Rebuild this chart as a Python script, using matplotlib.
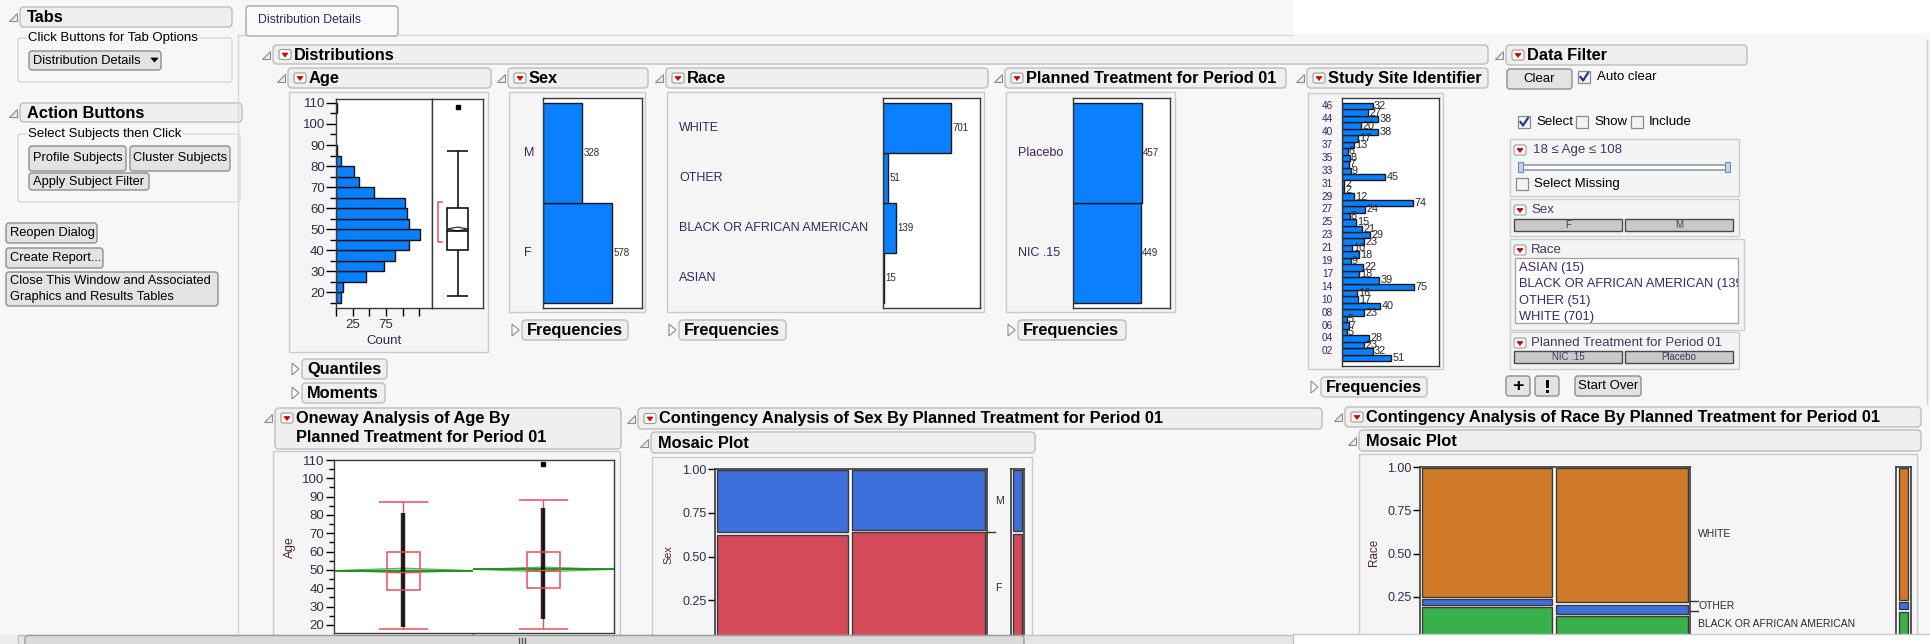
import numpy as np
import matplotlib
matplotlib.use("Agg")
import matplotlib.pyplot as plt
from matplotlib.patches import Rectangle, FancyBboxPatch, Polygon
from matplotlib.lines import Line2D
from matplotlib.transforms import Affine2D, blended_transform_factory
from matplotlib.ticker import FormatStrFormatter

plt.rcParams['font.family'] = ['Liberation Sans', 'DejaVu Sans']

# ---------------------------------------------------------------- data
# Age histogram (5-year bins, lower edges) and summary statistics
age_bin_low = [15, 20, 25, 30, 35, 40, 45, 50, 55, 60, 65, 70, 75, 80, 85, 90, 95, 100, 105]
age_counts = [8, 10, 45, 72, 88, 109, 126, 109, 106, 104, 57, 34, 27, 8, 2, 0, 0, 0, 1]
age_quartiles = [40, 49, 60]          # Q1, median, Q3
age_whiskers = [18, 87]
age_outliers = [108]
age_mean = 50.0
age_mean_ci = [49.1, 50.9]
age_shortest_half = [44, 63]
age_min, age_max = 18, 108

sex_levels = ['F', 'M']
sex_counts = [578, 328]

race_levels = ['ASIAN', 'BLACK OR AFRICAN AMERICAN', 'OTHER', 'WHITE']
race_counts = [15, 139, 51, 701]

trt_levels = ['NIC .15', 'Placebo']
trt_counts = [449, 457]

site_ids = ['01', '02', '03', '04', '05', '06', '07', '08', '09', '10', '11', '14', '15',
            '17', '18', '19', '20', '21', '22', '23', '24', '25', '26', '27', '28', '29',
            '30', '31', '32', '33', '34', '35', '36', '37', '38', '40', '41', '44', '45', '46']
site_counts = [51, 32, 23, 28, 5, 7, 5, 23, 40, 17, 16, 75, 39,
               18, 22, 9, 18, 10, 23, 29, 21, 15, 8, 24, 74, 12,
               2, 2, 45, 9, 7, 8, 6, 13, 17, 38, 20, 38, 27, 32]

# Oneway: Age by planned treatment (NIC .15, Placebo)
ow_q1 = [39, 40]
ow_median = [49, 50]
ow_q3 = [60, 60]
ow_whisker_lo = [18, 18]
ow_whisker_hi = [87, 88]
ow_points_lo = [19, 23]
ow_points_hi = [81, 84]
ow_outliers = [[], [108]]
ow_means = [49.7, 50.3]
ow_mean_halfci = [1.3, 1.3]

# Contingency tables by treatment column (NIC .15, Placebo)
sex_by_nic = [283, 166]            # F, M
sex_by_placebo = [295, 162]
race_by_nic = [7, 81, 21, 340]     # ASIAN, BLACK, OTHER, WHITE
race_by_placebo = [8, 58, 30, 361]

# ---------------------------------------------------------------- canvas
W, H = 1930, 644
BG = '#f7f7f7'
BAR = '#0a80ff'
NUM = '#2e2e4a'
CAT = '#3c2462'
RED = '#e8505f'

fig = plt.figure(figsize=(W / 100, H / 100), dpi=100)
fig.patch.set_facecolor(BG)
# pixel coordinates, origin at the top-left corner
PX = Affine2D().scale(0.01, -0.01).translate(0, H / 100) + fig.dpi_scale_trans


def add_ax(x0, y0, x1, y1):
    return fig.add_axes([x0 / W, 1 - y1 / H, (x1 - x0) / W, (y1 - y0) / H])


def box(x0, y0, x1, y1, fc='none', ec='none', lw=1.0, r=0, z=-3):
    if r:
        p = FancyBboxPatch((x0, y0), x1 - x0, y1 - y0,
                           boxstyle=f"round,pad=0,rounding_size={r}",
                           fc=fc, ec=ec, lw=lw, transform=PX, zorder=z)
    else:
        p = Rectangle((x0, y0), x1 - x0, y1 - y0, fc=fc, ec=ec, lw=lw,
                      transform=PX, zorder=z)
    fig.add_artist(p)
    return p


def poly(pts, fc, ec, lw=0.8, z=-2):
    fig.add_artist(Polygon(pts, closed=True, fc=fc, ec=ec, lw=lw,
                           transform=PX, zorder=z))


def seg(xs, ys, color, lw=1.0, z=-2):
    fig.add_artist(Line2D(xs, ys, color=color, lw=lw, transform=PX, zorder=z))


def label(x, y, s, size=9.5, bold=False, color='black', ha='left', va='center',
          z=4, **kw):
    return fig.text(x, y, s, transform=PX, fontsize=size,
                    fontweight='bold' if bold else 'normal', color=color,
                    ha=ha, va=va, zorder=z, **kw)


def open_tri(x, y):
    poly([(x - 4, y + 4), (x + 4, y + 4), (x + 4, y - 4)], '#ececec', '#8c8c8c')


def closed_tri(x, y):
    poly([(x - 3, y - 6), (x + 4, y), (x - 3, y + 6)], '#fbfbfb', '#8c8c8c')


def red_menu(x, y):
    box(x, y - 5, x + 12, y + 5, fc='#fbfbfb', ec='#9c9c9c', lw=0.8, r=2, z=-1)
    poly([(x + 3, y - 1.5), (x + 9, y - 1.5), (x + 6, y + 2.5)], '#d00000',
         '#d00000', lw=0.5, z=-0.5)


def header(x0, y0, x1, y1, text, menu=True, tri=True, size=11.8, lines=None):
    box(x0, y0, x1, y1, fc='#efefef', ec='#bdbdbd', lw=1, r=4)
    ym = (y0 + y1) / 2
    if lines is None:
        lines = [(text, ym)]
        ty = ym
    else:
        ty = lines[0][1]
    if tri:
        open_tri(x0 - 7, ty)
    tx = x0 + 7
    if menu:
        red_menu(x0 + 6, ty)
        tx = x0 + 21
    for s, yy in lines:
        label(tx, yy + 0.5, s, size, bold=True)


def button(x0, y0, x1, y1, text, size=9.3, fc='#e3e3e3', ec='#8e8e8e', bold=False,
           ha='center', tcolor='black', r=3):
    box(x0, y0, x1, y1, fc=fc, ec=ec, lw=1, r=r)
    tx = (x0 + x1) / 2 if ha == 'center' else x0 + 4
    label(tx, (y0 + y1) / 2, text, size, bold, ha=ha, color=tcolor)


def collapsed(x0, y0, x1, y1, text):
    closed_tri(x0 - 7, (y0 + y1) / 2)
    box(x0, y0, x1, y1, fc='#efefef', ec='#bdbdbd', lw=1, r=4)
    label(x0 + 5, (y0 + y1) / 2 + 0.5, text, 11.8, bold=True)


def checkbox(x, y, checked):
    box(x, y - 6, x + 12, y + 6, fc='#f4f4f4', ec='#8a8a8a', lw=0.9)
    if checked:
        seg([x + 2.5, x + 5, x + 10], [y, y + 3.5, y - 4], '#1f3a93', lw=1.6)


def group(x0, y0, x1, y1, title):
    box(x0, y0, x1, y1, ec='#d3dbe2', lw=1, r=3)
    label(x0 + 10, y0, title, 9.5, bbox=dict(fc=BG, ec='none', pad=1.0))


def panel(x0, y0, x1, y1):
    box(x0, y0, x1, y1, fc='#f5f5f5', ec='#cbcbcb', lw=1)


def frame(ax, lw=1.0, color='#3a3a3a'):
    ax.set_facecolor('white')
    for s in ax.spines.values():
        s.set_linewidth(lw)
        s.set_edgecolor(color)


# ---------------------------------------------------------------- left column
header(20, 7, 232, 27, 'Tabs', menu=False)
group(18, 38, 232, 82, 'Click Buttons for Tab Options')
button(29, 51, 161, 70, 'Distribution Details', ha='left')
poly([(151, 58), (158, 58), (154.5, 62)], 'black', 'black', lw=0.5, z=-1)

header(20, 103, 242, 122, 'Action Buttons', menu=False)
group(18, 134, 240, 202, 'Select Subjects then Click')
button(29, 146, 126, 171, 'Profile Subjects')
button(130, 146, 230, 171, 'Cluster Subjects')
button(29, 173, 149, 190, 'Apply Subject Filter')

button(6, 223, 97, 243, 'Reopen Dialog', ha='left')
button(6, 248, 103, 268, 'Create Report...', ha='left')
box(6, 272, 218, 306, fc='#e3e3e3', ec='#8e8e8e', lw=1, r=3)
label(10, 281, 'Close This Window and Associated', 9.3)
label(10, 297, 'Graphics and Results Tables', 9.3)

# tab strip
box(1293, 0, 1930, 33, fc='white', z=-4)
seg([238, 246], [35, 35], '#cfcfcf')
seg([398, 1293], [35, 35], '#dcdcdc')
seg([238, 238], [35, 633], '#d8d8d8')
box(246, 6, 398, 36, fc='#fafafa', ec='#a9a9a9', lw=1, r=3)
label(258, 20, 'Distribution Details', 8.8, color=CAT)

# ---------------------------------------------------------------- distributions
header(273, 45, 1488, 64, 'Distributions')

# Age
header(288, 68, 491, 88, 'Age')
panel(289, 92, 488, 352)
ax = add_ax(336, 99, 432, 308)
lo = np.array(age_bin_low, dtype=float)
cnt = np.array(age_counts, dtype=float)
keep = cnt > 0
ax.barh(lo[keep], cnt[keep], height=5, align='edge', color=BAR,
        edgecolor='#111111', linewidth=1.0)
ax.set_xlim(0, 144)
ax.set_ylim(12.4, 111.9)
frame(ax)
ax.set_yticks(range(20, 111, 10))
ax.set_yticks(range(15, 110, 10), minor=True)
ax.tick_params(axis='y', which='major', length=7, width=1, labelsize=9.5,
               labelcolor=NUM, pad=1)
ax.tick_params(axis='y', which='minor', length=4, width=1)
ax.set_xticks([0, 25, 50, 75, 100, 125])
ax.set_xticklabels(['', '25', '', '75', '', ''])
ax.tick_params(axis='x', length=6, width=1, labelsize=9.5, labelcolor=NUM, pad=2)
ax.set_xlabel('Count', fontsize=9.5, color=NUM, labelpad=3)

axb = add_ax(432, 99, 483, 308)
axb.set_xlim(0, 1)
axb.set_ylim(12.4, 111.9)
frame(axb)
axb.set_xticks([])
axb.set_yticks([])
q1, med, q3 = age_quartiles
axb.add_patch(Rectangle((0.29, q1), 0.42, q3 - q1, fc='white', ec='black', lw=1.1))
axb.hlines(med, 0.29, 0.71, color='black', lw=1.1)
axb.vlines(0.5, q3, age_whiskers[1], color='black', lw=1.1)
axb.vlines(0.5, age_whiskers[0], q1, color='black', lw=1.1)
axb.hlines(age_whiskers, 0.29, 0.71, color='black', lw=1.1)
axb.plot([0.5] * len(age_outliers), age_outliers, 's', ms=2.2, color='black')
axb.add_patch(Polygon([(0.29, age_mean), (0.5, age_mean_ci[1]), (0.71, age_mean),
                       (0.5, age_mean_ci[0])], closed=True, fill=False,
                      ec='#333333', lw=0.9))
sh0, sh1 = age_shortest_half
axb.plot([0.19, 0.125, 0.125, 0.19], [sh1, sh1, sh0, sh0], color=RED, lw=1.1)

collapsed(302, 359, 387, 379, 'Quantiles')
collapsed(302, 383, 385, 403, 'Moments')


def freq_chart(bx, levels, counts, xmax, pad, label_x, label_ha='left',
               label_size=9.0, value_size=7.0, shown=None):
    a = add_ax(*bx)
    pos = np.arange(len(levels))
    a.barh(pos, counts, height=1.0, color=BAR, edgecolor='#1a1a1a', linewidth=1.0)
    a.set_xlim(0, xmax)
    a.set_ylim(-0.5 - pad, len(levels) - 0.5 + pad)
    a.set_xticks([])
    a.set_yticks([])
    frame(a)
    tr = blended_transform_factory(PX, a.transData)
    for p, lev, c in zip(pos, levels, counts):
        if shown is None or shown[p]:
            a.text(label_x, p, lev, transform=tr, fontsize=label_size, color=CAT,
                   ha=label_ha, va='center')
        a.text(c + xmax * 0.012, p, str(c), fontsize=value_size, color='#2a2a2a',
               va='center', ha='left')
    return a


# Sex
header(508, 68, 648, 88, 'Sex')
panel(509, 92, 645, 312)
freq_chart((543, 98, 642, 308), sex_levels, sex_counts, 830, 0.05, 524)
collapsed(522, 320, 628, 340, 'Frequencies')

# Race
header(666, 68, 988, 88, 'Race')
panel(667, 92, 984, 312)
freq_chart((883, 98, 980, 308), race_levels, race_counts, 1000, 0.1, 679)
collapsed(679, 320, 786, 340, 'Frequencies')

# Planned treatment
header(1005, 68, 1286, 88, 'Planned Treatment for Period 01')
panel(1006, 92, 1175, 312)
freq_chart((1073, 98, 1170, 308), trt_levels, trt_counts, 642, 0.05, 1018)
collapsed(1018, 320, 1126, 340, 'Frequencies')

# Study site
header(1307, 68, 1488, 88, 'Study Site Identifier')
panel(1308, 93, 1443, 369)
n_sites = len(site_ids)
site_shown = [(n_sites - 1 - i) % 2 == 0 for i in range(n_sites)]
freq_chart((1342, 98, 1439, 366), site_ids, site_counts, 101, 0.78, 1333,
           label_ha='right', label_size=7.2, value_size=7.8, shown=site_shown)
collapsed(1321, 377, 1427, 397, 'Frequencies')

# ---------------------------------------------------------------- data filter
header(1506, 45, 1747, 65, 'Data Filter')
seg([1927, 1927], [40, 404], '#d0d0d0')
button(1507, 69, 1572, 89, 'Clear', size=9.5)
checkbox(1578, 77, True)
label(1597, 77, 'Auto clear', 9.5)
checkbox(1518, 122, True)
label(1536, 122, 'Select', 9.5)
checkbox(1576, 122, False)
label(1594, 122, 'Show', 9.5)
checkbox(1631, 122, False)
label(1649, 122, 'Include', 9.5)

box(1510, 139, 1739, 196, fc='#f4f4f4', ec='#cdcdcd')
red_menu(1514, 150)
label(1533, 150, f'{age_min} \u2264 Age \u2264 {age_max}', 9.5, color='#3e3a60')
box(1520, 165, 1729, 170, fc='white', ec='#7d8a99', lw=1, r=2)
box(1518, 162, 1523, 172, fc='#bcd7f0', ec='#6b8fb5', lw=0.8, z=-2)
box(1725, 162, 1730, 172, fc='#bcd7f0', ec='#6b8fb5', lw=0.8, z=-2)
checkbox(1516, 184, False)
label(1534, 184, 'Select Missing', 9.5)

box(1510, 199, 1739, 236, fc='#f4f4f4', ec='#cdcdcd')
red_menu(1514, 210)
label(1531, 210, 'Sex', 9.5, color='#3e3a60')
button(1514, 219, 1622, 231, sex_levels[0], size=7, fc='#c9c9c9', ec='#4a4a4a', r=0,
       tcolor='#3e3a60')
button(1625, 219, 1733, 231, sex_levels[1], size=7, fc='#c9c9c9', ec='#4a4a4a', r=0,
       tcolor='#3e3a60')

box(1510, 239, 1744, 330, fc='#f4f4f4', ec='#cdcdcd')
red_menu(1514, 250)
label(1531, 250, 'Race', 9.5, color='#3e3a60')
listbox = box(1515, 258, 1738, 323, fc='white', ec='#a8a8a8')
for k, (lev, c) in enumerate(zip(race_levels, race_counts)):
    t = label(1519, 268 + k * 16.3, f'{lev} ({c})', 9.3, color=CAT)
    t.set_clip_path(listbox)

box(1510, 332, 1739, 369, fc='#f4f4f4', ec='#cdcdcd')
red_menu(1514, 343)
label(1531, 343, 'Planned Treatment for Period 01', 9.5, color='#3e3a60')
button(1514, 351, 1622, 363, trt_levels[0], size=7, fc='#c9c9c9', ec='#4a4a4a', r=0,
       tcolor='#3e3a60')
button(1625, 351, 1733, 363, trt_levels[1], size=7, fc='#c9c9c9', ec='#4a4a4a', r=0,
       tcolor='#3e3a60')

button(1506, 376, 1530, 396, '+', size=14, bold=True)
button(1535, 376, 1559, 396, '', size=12)
box(1545.5, 380, 1548.5, 388, fc='black', z=-1)
box(1545.5, 390, 1548.5, 393, fc='black', z=-1)
button(1575, 376, 1641, 396, 'Start Over', size=9.5)

# ---------------------------------------------------------------- oneway
header(275, 408, 621, 449, '', lines=[('Oneway Analysis of Age By', 418),
                                      ('Planned Treatment for Period 01', 437)])
panel(273, 451, 620, 680)
ax = add_ax(334, 460, 614, 633)
frame(ax)
ax.set_xlim(0, 1)
ax.set_ylim(15.6, 110)
edges = np.concatenate([[0], np.cumsum(trt_counts)]) / np.sum(trt_counts)
for i in range(len(trt_levels)):
    left, right = edges[i], edges[i + 1]
    c = (left + right) / 2
    m, ci = ow_means[i], ow_mean_halfci[i]
    ax.add_patch(Polygon([(left, m), (c, m + ci), (right, m), (c, m - ci)], closed=True,
                         fc='#8ed08e', ec='#2f9e2f', lw=0.8, alpha=0.75, zorder=2))
    ax.hlines(m, left, right, color='#1f8a1f', lw=1.3, zorder=2.2)
    bw, cw = 0.059, 0.0875
    ax.vlines(c, ow_whisker_lo[i], ow_whisker_hi[i], color=RED, lw=1.0, zorder=2.4)
    ax.hlines([ow_whisker_lo[i], ow_whisker_hi[i]], c - cw, c + cw, color=RED, lw=1.1,
              zorder=2.4)
    ax.vlines(c, ow_points_lo[i], ow_points_hi[i], color='black', lw=3.2, alpha=0.85,
              zorder=2.6)
    if ow_outliers[i]:
        ax.plot([c] * len(ow_outliers[i]), ow_outliers[i], 's', ms=2.2, color='black',
                zorder=2.6)
    ax.add_patch(Rectangle((c - bw, ow_q1[i]), 2 * bw, ow_q3[i] - ow_q1[i], fill=False,
                           ec=RED, lw=1.1, zorder=3))
    ax.hlines(ow_median[i], c - bw, c + bw, color=RED, lw=1.0, zorder=3)
ax.set_yticks(range(20, 111, 10))
ax.set_yticks(range(25, 110, 10), minor=True)
ax.tick_params(axis='y', which='major', length=6, width=1, labelsize=9.5,
               labelcolor=NUM, pad=1)
ax.tick_params(axis='y', which='minor', length=3.5, width=1)
ax.set_xticks([edges[1]])
ax.set_xticklabels([''])
ax.tick_params(axis='x', length=3, width=1)
label(290, 547, 'Age', 8.8, color='#4a2240', rotation=90, ha='center')


# ---------------------------------------------------------------- mosaics
def mosaic(bx, mbx, columns, totals, levels, colors, gap=0.007):
    a = add_ax(*bx)
    frame(a, lw=1.2)
    a.set_xlim(0, 1)
    a.set_ylim(0, 1)
    n_all = sum(sum(col) for col in columns)
    x = 0.0
    for col in columns:
        n = sum(col)
        w = n / n_all
        b = 0.0
        for k, clr in zip(col, colors):
            h = k / n
            a.bar(x + gap, h - 2 * gap, width=w - 2 * gap, bottom=b + gap, align='edge',
                  color=clr, edgecolor='#3a3a3a', linewidth=1.0)
            b += h
        x += w
    a.set_xticks([])
    a.set_yticks([0.25, 0.5, 0.75, 1.0])
    a.yaxis.set_major_formatter(FormatStrFormatter('%.2f'))
    a.tick_params(axis='y', length=5, width=1, labelsize=9, labelcolor=NUM, pad=1)

    # marginal proportions on the right
    am = add_ax(*mbx)
    frame(am, lw=1.2)
    am.set_xlim(0, 1)
    am.set_ylim(0, 1)
    am.set_xticks([])
    am.set_yticks([])
    tot = sum(totals)
    tr = blended_transform_factory(a.transAxes, a.transData)
    b = 0.0
    for k, (t, clr, lev) in enumerate(zip(totals, colors, levels)):
        h = t / tot
        am.bar(0.18, h - 2 * gap, width=0.64, bottom=b + gap, align='edge', color=clr,
               edgecolor='#3a3a3a', linewidth=1.0)
        a.text(1.03, b + h / 2, lev, transform=tr, fontsize=7.5, color='#2a2a3a',
               va='center', ha='left')
        if 0 < k:
            a.plot([1.0, 1.028], [b, b], transform=tr, clip_on=False, color='#333333',
                   lw=1.0)
        b += h
    return a


# Sex by treatment
header(638, 408, 1322, 429, 'Contingency Analysis of Sex By Planned Treatment for Period 01')
header(651, 432, 1035, 453, 'Mosaic Plot', menu=False)
panel(652, 457, 1032, 680)
mosaic((715, 469, 987, 644), (1011, 469, 1024, 644), [sex_by_nic, sex_by_placebo],
       sex_counts, sex_levels, ['#d44a5a', '#3f6fdb'])
label(668, 555, 'Sex', 7.8, color='#4a2240', rotation=90, ha='center')

# Race by treatment
header(1345, 407, 1921, 427, 'Contingency Analysis of Race By Planned Treatment for Period 01')
header(1359, 430, 1921, 451, 'Mosaic Plot', menu=False)
panel(1359, 454, 1917, 680)
mosaic((1420, 467, 1690, 640), (1896, 467, 1911, 640), [race_by_nic, race_by_placebo],
       race_counts, race_levels, ['#d44a5a', '#39b04a', '#3f6fdb', '#cf7a28'])
label(1374, 552, 'Race', 8.4, color='#4a2240', rotation=90, ha='center')

# ---------------------------------------------------------------- scroll bar
box(1293, 634, 1930, 644, fc='white', ec='none', z=6)
seg([1293, 1930], [634, 634], '#c8c8c8', z=6.2)
box(0, 635, 1293, 644, fc='#ececec', ec='none', z=6)
box(18, 635, 1293, 646, fc='#e6e6e6', ec='#c2c2c2', z=6.1)
box(25, 635.5, 1024, 647, fc='#dadada', ec='#9a9a9a', r=3, z=6.2)
for gxp in (519, 522, 525):
    seg([gxp, gxp], [638, 643], '#555555', lw=1, z=6.3)

fig.savefig('out.png', dpi=100, facecolor=fig.get_facecolor())
